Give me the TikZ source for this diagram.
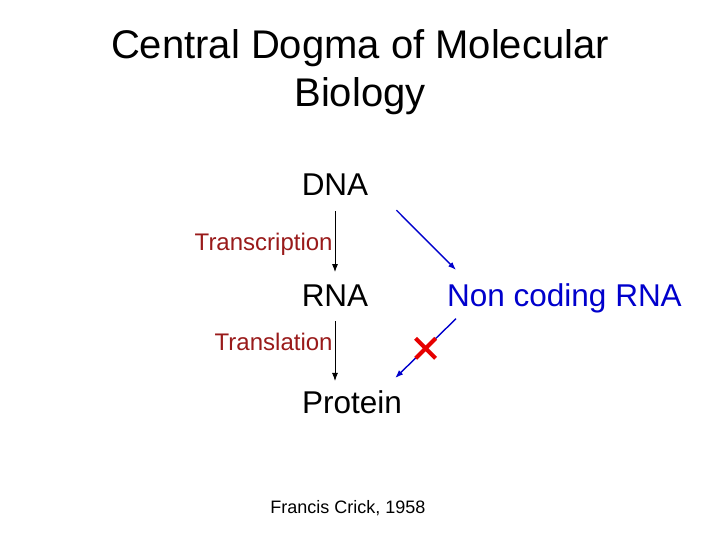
\documentclass[tikz,border=0pt]{standalone}
\usepackage{fontspec}
\setmainfont{Liberation Sans}
\usetikzlibrary{arrows.meta}

\definecolor{labelred}{RGB}{153,26,26}
\definecolor{ncblue}{RGB}{0,0,204}
\definecolor{crossred}{RGB}{230,0,0}

\tikzset{
  molecule/.style = {anchor=base, inner sep=0pt, font=\fontsize{31.5}{36}\selectfont},
  process/.style = {left, inner sep=2pt, text=labelred, font=\fontsize{24}{28}\selectfont},
  flow/.style = {-{Latex[length=8pt,width=6pt]}, line width=0.9pt},
  ncflow/.style = {flow, ncblue, line width=1.4pt}
}

\begin{document}
\begin{tikzpicture}[x=1pt,y=-1pt]
    \useasboundingbox (0,0) rectangle (720,540);

    \node[anchor=base, align=center, font=\fontsize{40}{48}\selectfont] (title) at (360,107)
        {Central Dogma of Molecular\\Biology};

    \node[molecule] (DNA) at (335,196) {DNA};
    \node[molecule] (RNA) at (335,306) {RNA};
    \node[molecule, anchor=base west] (Protein) at (302,413) {Protein};
    \node[molecule, anchor=base west, text=ncblue] (NC) at (447,306) {Non coding RNA};

    \node[anchor=base, font=\fontsize{18}{22}\selectfont] (Crick) at (348,513) {Francis Crick, 1958};

    \draw[flow] ([yshift=-15pt]DNA.south) -- ([yshift=12pt]RNA.north)
        node[pos=0.55, process] {Transcription};
    \draw[flow] ([yshift=-15pt]RNA.south) -- ([yshift=9pt]RNA.south |- Protein.north)
        node[pos=0.35, process] {Translation};

    \draw[ncflow] ([xshift=28pt,yshift=-14pt]DNA.south east) -- ([xshift=9pt,yshift=13pt]NC.north west);
    \draw[ncflow] ([xshift=9pt,yshift=-6pt]NC.south west) -- ([xshift=-7pt,yshift=12pt]Protein.north east)
        coordinate[midway] (block);

    \draw[crossred, line width=4pt] ([xshift=-10pt,yshift=-10pt]block) -- ([xshift=10pt,yshift=10pt]block)
        ([xshift=-10pt,yshift=10pt]block) -- ([xshift=10pt,yshift=-10pt]block);
\end{tikzpicture}
\end{document}
